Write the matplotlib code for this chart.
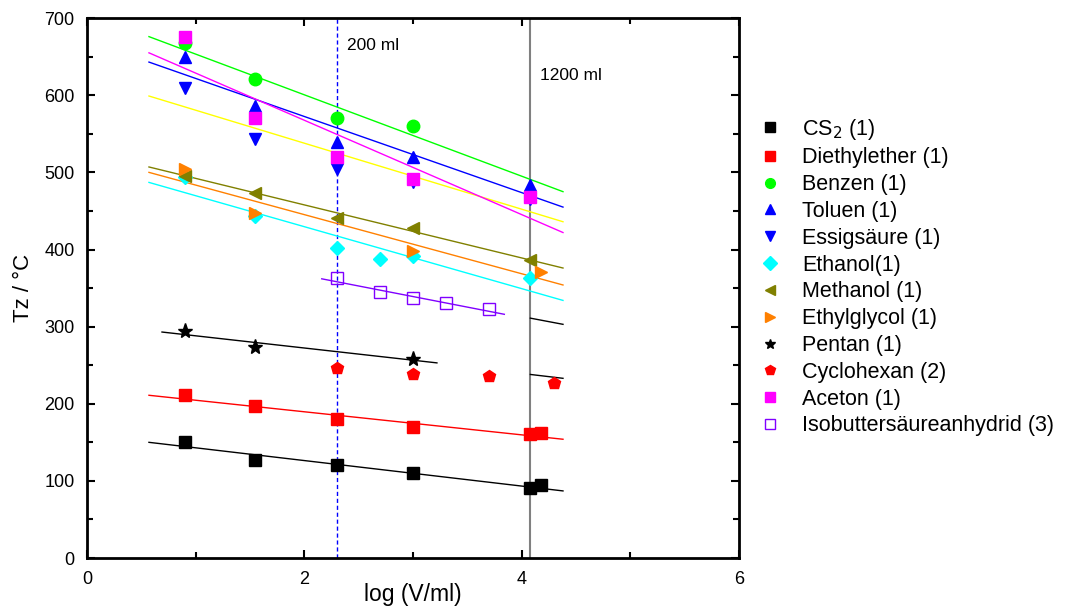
import matplotlib
matplotlib.use('Agg')
import matplotlib.pyplot as plt
from matplotlib.lines import Line2D

plt.rcParams['font.family'] = ['Liberation Sans', 'DejaVu Sans']

# measured points (log(V/ml), Tz in degC)
cs2_x = [0.9, 1.55, 2.3, 3.0, 4.08, 4.18]
cs2_y = [151, 127, 120, 110, 91, 95]
ether_x = [0.9, 1.55, 2.3, 3.0, 4.08, 4.18]
ether_y = [212, 197, 180, 170, 161, 162]
benzen_x = [0.9, 1.55, 2.3, 3.0]
benzen_y = [668, 621, 570, 560]
toluen_x = [0.9, 1.55, 2.3, 3.0, 4.08]
toluen_y = [649, 586, 540, 520, 483]
essig_x = [0.9, 1.55, 2.3, 3.0, 4.08]
essig_y = [609, 543, 505, 488, 466]
ethanol_x = [0.9, 1.55, 2.3, 2.7, 3.0, 4.08]
ethanol_y = [494, 443, 402, 388, 391, 363]
methanol_x = [0.9, 1.55, 2.3, 3.0, 4.08]
methanol_y = [495, 473, 441, 428, 386]
glycol_x = [0.9, 1.55, 3.0, 4.18]
glycol_y = [505, 447, 398, 371]
pentan_x = [0.9, 1.55, 3.0]
pentan_y = [294, 274, 258]
cyclo_x = [2.3, 3.0, 3.7, 4.3]
cyclo_y = [247, 238, 236, 227]
aceton_x = [0.9, 1.55, 2.3, 3.0, 4.08]
aceton_y = [676, 570, 520, 492, 468]
isob_x = [2.3, 2.7, 3.0, 3.3, 3.7]
isob_y = [363, 345, 337, 330, 323]

# fitted lines: (x0, x1), (y0, y1), colour
fits = [
    ((0.57, 4.38), (150, 87), 'black'),
    ((0.57, 4.38), (211, 154), '#ff0000'),
    ((0.57, 4.38), (676, 475), '#00ff00'),
    ((0.57, 4.38), (643, 455), '#0000ff'),
    ((0.57, 4.38), (599, 436), '#ffff00'),
    ((0.57, 4.38), (655, 422), '#ff00ff'),
    ((0.57, 4.38), (487, 334), '#00ffff'),
    ((0.57, 4.38), (500, 354), '#ff8000'),
    ((0.57, 4.38), (507, 376), '#808000'),
    ((2.16, 3.84), (362, 316), '#8000ff'),
    ((0.69, 3.22), (293, 253), 'black'),
    ((4.08, 4.38), (311, 303), 'black'),
    ((4.08, 4.38), (238, 233), 'black'),
]

fig = plt.figure(figsize=(10.77, 6.08), dpi=100)
ax = fig.add_axes([0.0808, 0.0822, 0.6054, 0.888])

for (fx, fy, c) in fits:
    ax.plot(fx, fy, color=c, lw=1.0, zorder=2)

ax.axvline(2.3, color='#0000ff', lw=1.0, ls=(0, (3, 2)), zorder=1)
ax.axvline(4.08, color='#808080', lw=1.5, zorder=1)
ax.text(2.39, 665, '200 ml', fontsize=12.5, va='center')
ax.text(4.17, 626, '1200 ml', fontsize=12.5, va='center')

ms = 9
series = [
    (cs2_x, cs2_y, 's', 'black', 'CS$_2$ (1)'),
    (ether_x, ether_y, 's', '#ff0000', 'Diethylether (1)'),
    (benzen_x, benzen_y, 'o', '#00ff00', 'Benzen (1)'),
    (toluen_x, toluen_y, '^', '#0000ff', 'Toluen (1)'),
    (essig_x, essig_y, 'v', '#0000ff', 'Essigsäure (1)'),
    (ethanol_x, ethanol_y, 'D', '#00ffff', 'Ethanol(1)'),
    (methanol_x, methanol_y, '<', '#808000', 'Methanol (1)'),
    (glycol_x, glycol_y, '>', '#ff8000', 'Ethylglycol (1)'),
    (pentan_x, pentan_y, '*', 'black', 'Pentan (1)'),
    (cyclo_x, cyclo_y, 'p', '#ff0000', 'Cyclohexan (2)'),
    (aceton_x, aceton_y, 's', '#ff00ff', 'Aceton (1)'),
]
handles = []
for (x, y, m, c, lab) in series:
    size = ms - 2 if m == 'D' else ms
    if m == '*':
        size = ms + 2
    ax.plot(x, y, ls='none', marker=m, color=c, markersize=size, zorder=3)
    handles.append(Line2D([], [], ls='none', marker=m, color=c, markersize=7, label=lab))

ax.plot(isob_x, isob_y, ls='none', marker='s', mfc='none', mec='#8000ff',
        markersize=ms, mew=1.0, zorder=3)
handles.append(Line2D([], [], ls='none', marker='s', mfc='none', mec='#8000ff',
                      markersize=7, label='Isobuttersäureanhydrid (3)'))

ax.set_xlim(0, 6)
ax.set_ylim(0, 700)
ax.set_xticks([0, 2, 4, 6])
ax.set_xticks([1, 3, 5], minor=True)
ax.set_yticks(range(0, 701, 100))
ax.set_yticks(range(50, 700, 100), minor=True)
ax.tick_params(which='both', direction='in', top=True, right=True, width=1.5)
ax.tick_params(which='major', length=6, labelsize=13)
ax.tick_params(axis='y', which='major', pad=9)
ax.tick_params(axis='x', which='major', pad=9)
ax.tick_params(which='minor', length=4)
for s in ax.spines.values():
    s.set_linewidth(2)
ax.set_xlabel('log (V/ml)', fontsize=16.5, labelpad=-3)
ax.set_ylabel('Tz / °C', fontsize=16, labelpad=7)

fig.legend(handles=handles, loc='upper left', bbox_to_anchor=(0.695, 0.826),
           frameon=False, fontsize=15.5, handlelength=1.0, handletextpad=1.0,
           labelspacing=0.27, borderpad=0)

fig.savefig('out.png', dpi=100)
